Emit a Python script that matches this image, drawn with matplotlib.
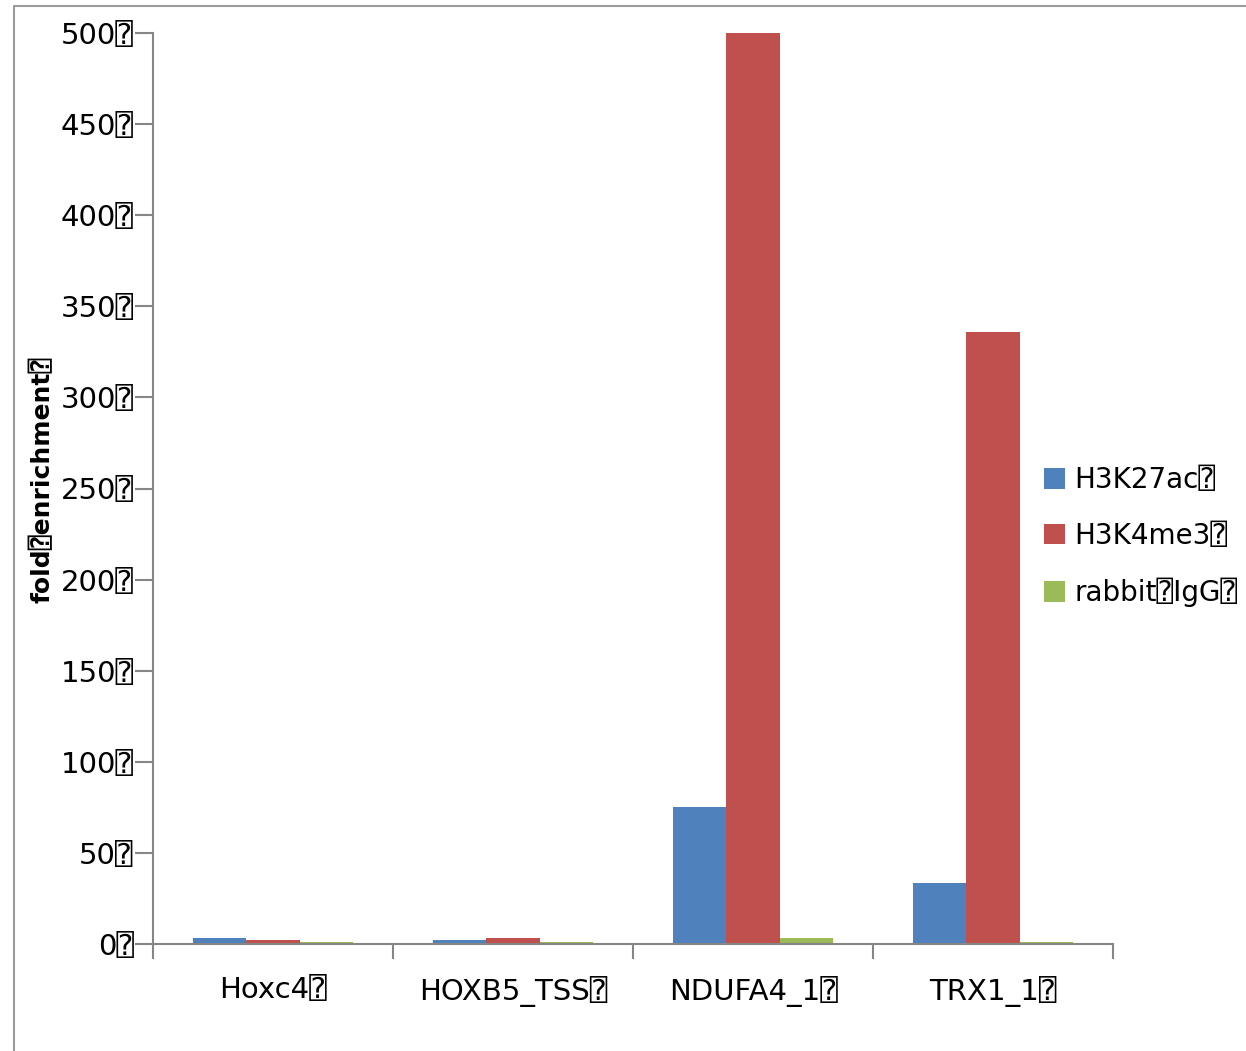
import numpy as np
import matplotlib
matplotlib.use('Agg')
import matplotlib.pyplot as plt
from matplotlib.lines import Line2D
from matplotlib.ticker import FixedLocator, FuncFormatter

plt.rcParams['font.family'] = ['DejaVu Sans', 'DejaVu Sans Mono']

BOX = '\u2370'

categories = ['Hoxc4', 'HOXB5_TSS', 'NDUFA4_1', 'TRX1_1']
h3k27ac = [3.3, 2.2, 75.2, 33.5]
h3k4me3 = [2.2, 3.3, 500.0, 336.0]
rabbit_igg = [1.0, 1.0, 3.3, 1.0]
series_names = ['H3K27ac', 'H3K4me3', 'rabbit' + BOX + 'IgG']
series_colors = ['#4F81BD', '#C0504D', '#9BBB59']
y_ticks = [0, 50, 100, 150, 200, 250, 300, 350, 400, 450, 500]

AXIS_GRAY = '#868686'
FS = 21

W, H = 1246, 1051
fig = plt.figure(figsize=(W / 100, H / 100), dpi=100)
ax = fig.add_axes([153 / W, 1 - 944 / H, (1113 - 153) / W, (944 - 33) / H])

x = np.arange(len(categories))
width = 0.222
for i, (vals, color, name) in enumerate(zip([h3k27ac, h3k4me3, rabbit_igg],
                                             series_colors, series_names)):
    ax.bar(x + (i - 1) * width, vals, width, color=color,
           label=name + BOX, zorder=2)

ax.set_xlim(-0.5, len(categories) - 0.5)
ax.set_ylim(0, 500)

ax.yaxis.set_major_locator(FixedLocator(y_ticks))
ax.yaxis.set_major_formatter(FuncFormatter(lambda v, p: f'{int(v)}{BOX}'))
ax.tick_params(axis='y', direction='out', length=13, width=1.5,
               color=AXIS_GRAY, labelsize=FS, pad=1)
for lbl in ax.get_yticklabels():
    lbl.set_verticalalignment('center_baseline')

ax.set_xticks(x)
ax.set_xticklabels([c + BOX for c in categories])
ax.xaxis.set_minor_locator(FixedLocator(np.arange(-0.5, len(categories), 1.0)))
ax.tick_params(axis='x', which='major', length=0, labelsize=FS, pad=23)
ax.tick_params(axis='x', which='minor', direction='out', length=11,
               width=1.5, color=AXIS_GRAY)

for side in ['top', 'right']:
    ax.spines[side].set_visible(False)
for side in ['left', 'bottom']:
    ax.spines[side].set_color(AXIS_GRAY)
    ax.spines[side].set_linewidth(1.5)
ax.spines['bottom'].set_zorder(3)

fig.text(43 / W, 1 - 480 / H, 'fold' + BOX + 'enrichment' + BOX,
         rotation=90, ha='center', va='center', fontsize=18,
         fontweight='bold')

leg = ax.legend(loc='upper left', bbox_to_anchor=(1033 / W, 1 - 455 / H),
                bbox_transform=fig.transFigure, frameon=False, fontsize=20,
                handlelength=0.75, handleheight=0.75, handletextpad=0.35,
                labelspacing=1.0, borderaxespad=0)

# outer chart frame (left and top edges visible)
fig.add_artist(Line2D([14 / W, 14 / W, 1.0], [0.0, 1 - 6 / H, 1 - 6 / H],
                      transform=fig.transFigure, color='#9a9a9a', lw=1.5))

fig.savefig('out.png', dpi=100)
